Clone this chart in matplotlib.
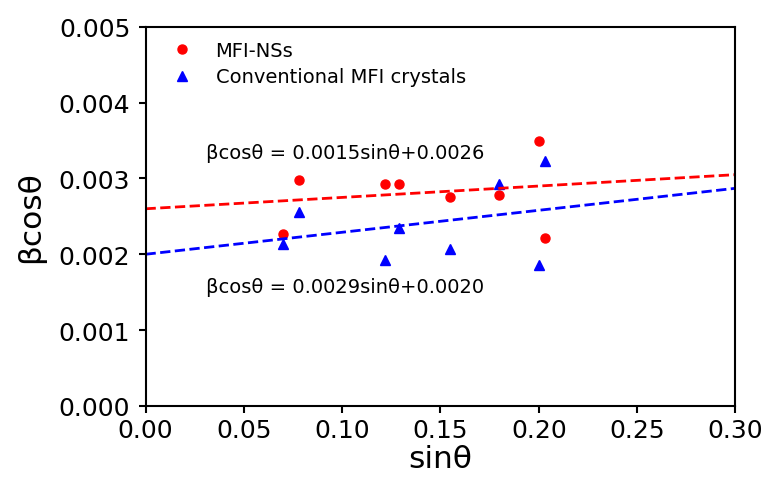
import matplotlib
matplotlib.use("Agg")
import matplotlib.pyplot as plt
import numpy as np

# MFI-NSs
ns_x = [0.070, 0.078, 0.122, 0.129, 0.155, 0.180, 0.200, 0.203]
ns_y = [0.00227, 0.00298, 0.00293, 0.00293, 0.00276, 0.00278, 0.00350, 0.00222]

# Conventional MFI crystals
conv_x = [0.070, 0.078, 0.122, 0.129, 0.155, 0.180, 0.200, 0.203]
conv_y = [0.00214, 0.00256, 0.00193, 0.00234, 0.00207, 0.00293, 0.00186, 0.00323]

# linear fits (slope, intercept)
ns_fit = (0.0015, 0.0026)
conv_fit = (0.0029, 0.0020)

plt.rcParams['font.family'] = 'DejaVu Sans'

fig = plt.figure(figsize=(7.66, 4.89), dpi=100)
ax = fig.add_axes([0.19, 0.168, 0.77, 0.775])

ax.plot(ns_x, ns_y, 'o', color='red', markersize=6.5, label='MFI-NSs')
ax.plot(conv_x, conv_y, '^', color='blue', markersize=6.5, label='Conventional MFI crystals')

xs = np.array([0.0, 0.30])
ax.plot(xs, ns_fit[0] * xs + ns_fit[1], '--', color='red', linewidth=2)
ax.plot(xs, conv_fit[0] * xs + conv_fit[1], '--', color='blue', linewidth=2)

ax.text(0.031, 0.00334, 'βcosθ = 0.0015sinθ+0.0026', fontsize=14, va='center', ha='left')
ax.text(0.031, 0.00158, 'βcosθ = 0.0029sinθ+0.0020', fontsize=14, va='center', ha='left')

ax.set_xlim(0, 0.30)
ax.set_ylim(0, 0.005)
ax.set_xticks(np.arange(0, 0.31, 0.05))
ax.set_yticks(np.arange(0, 0.0051, 0.001))
ax.set_xticklabels([f"{v:.2f}" for v in np.arange(0, 0.31, 0.05)])
ax.set_yticklabels([f"{v:.3f}" for v in np.arange(0, 0.0051, 0.001)])
ax.tick_params(labelsize=18, width=1.5, length=5)
ax.tick_params(axis='y', pad=6)
for s in ax.spines.values():
    s.set_linewidth(1.5)

ax.set_xlabel('sinθ', fontsize=22.5, labelpad=2)
ax.set_ylabel('βcosθ', fontsize=22.5, labelpad=10)

ax.legend(loc='upper left', frameon=False, fontsize=14, handletextpad=0.7,
          bbox_to_anchor=(0.0, 1.01), labelspacing=0.4)

fig.savefig('out.png', dpi=100)
